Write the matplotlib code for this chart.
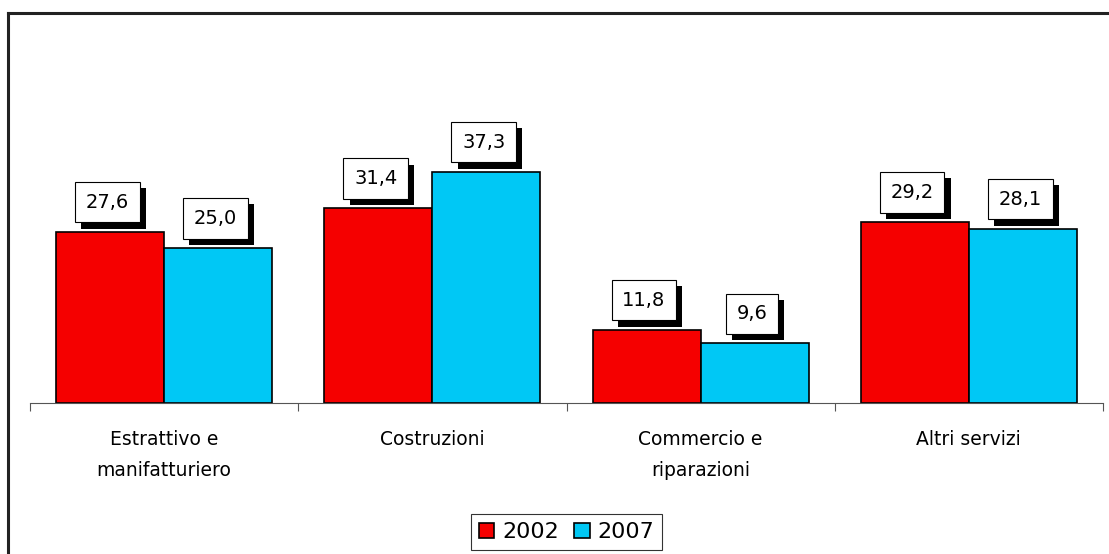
import numpy as np
import matplotlib
matplotlib.use("Agg")
import matplotlib.pyplot as plt
import matplotlib.patheffects as pe
from matplotlib.lines import Line2D

categories = ["Estrattivo e\nmanifatturiero", "Costruzioni", "Commercio e\nriparazioni", "Altri servizi"]
years = ["2002", "2007"]
values_2002 = [27.6, 31.4, 11.8, 29.2]
values_2007 = [25.0, 37.3, 9.6, 28.1]
colors = ["#f50000", "#00c8f5"]

plt.rcParams['font.family'] = ['DejaVu Sans']

fig = plt.figure(figsize=(11.09, 5.54), dpi=100)
W, H = 1109, 554

# outer frame (left and top edges visible)
fig.add_artist(Line2D([8 / W, 8 / W], [0, 1 - 13 / H], color="#222222", lw=2.2))
fig.add_artist(Line2D([8 / W, 1], [1 - 13 / H, 1 - 13 / H], color="#222222", lw=2.2))

ax = fig.add_axes([30 / W, 151 / H, 1073 / W, 372 / H])
x = np.arange(len(categories))
width = 0.403

series = [values_2002, values_2007]
for i, vals in enumerate(series):
    offs = (i - 0.5) * width
    ax.bar(x + offs, vals, width, color=colors[i], edgecolor="black", linewidth=1.2, label=years[i])
    for xi, v in zip(x + offs, vals):
        t = ax.annotate(f"{v:.1f}".replace(".", ","), (xi - 0.01, v), xytext=(0, 14.5),
                        textcoords="offset points", ha="center", va="bottom",
                        fontsize=14, bbox=dict(boxstyle="square,pad=0.55", fc="white", ec="black", lw=0.8))
        t.get_bbox_patch().set_path_effects([
            pe.withSimplePatchShadow(offset=(4.5, -4.5), shadow_rgbFace="black", alpha=1.0)])

ax.set_xlim(-0.5, len(categories) - 0.5)
ax.set_ylim(0, 60)
for s in ["top", "right", "left"]:
    ax.spines[s].set_visible(False)
ax.spines["bottom"].set_color("#555555")
ax.set_yticks([])
ax.set_xticks(np.arange(-0.5, len(categories), 1.0))
ax.set_xticklabels([])
ax.tick_params(axis="x", length=6, color="#555555")
for xi, c in zip(x, categories):
    ax.text(xi, -4.4, c, ha="center", va="top", fontsize=13.5, linespacing=1.75)

leg = ax.legend(loc="lower center", bbox_to_anchor=(0.5, -0.425), ncol=2, fontsize=16,
                frameon=True, fancybox=False, edgecolor="black", handlelength=0.7,
                handleheight=0.7, handletextpad=0.35, columnspacing=0.7, borderpad=0.35)
leg.get_frame().set_linewidth(0.8)

fig.savefig("out.png", dpi=100)
